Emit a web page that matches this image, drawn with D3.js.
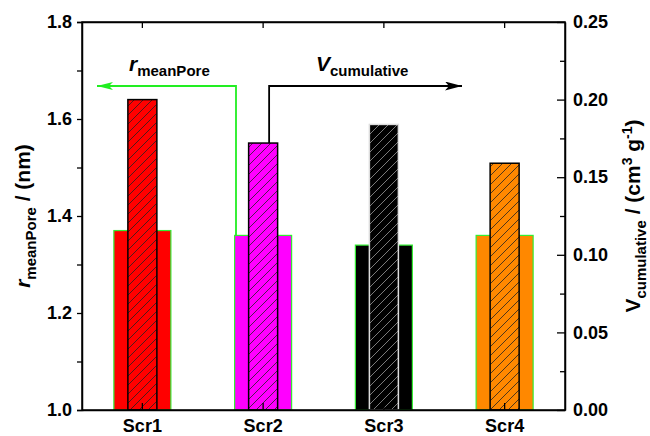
<!DOCTYPE html>
<html>
<head>
<meta charset="utf-8">
<script src="https://d3js.org/d3.v7.min.js"></script>
<style>
  body { margin: 0; background: #fff; }
  text { font-family: "Liberation Sans", Arial, sans-serif; font-weight: bold; }
</style>
</head>
<body>
<svg id="chart" width="650" height="436"></svg>
<script>
    // data
    var categories = ["Scr1", "Scr2", "Scr3", "Scr4"];
    var rMeanPore = [1.37, 1.36, 1.34, 1.36];
    var vCumulative = [0.200, 0.172, 0.184, 0.159];
    var fills = ["#ff0000", "#ff00ff", "#000000", "#ff8800"];
    var leftTicks = [1.0, 1.2, 1.4, 1.6, 1.8];
    var rightTicks = [0.00, 0.05, 0.10, 0.15, 0.20, 0.25];

    var svg = d3.select("#chart");
    var plotL = 82, plotR = 565, plotT = 22, plotB = 410;

    var x = d3.scaleBand().domain(categories).range([plotL, plotR]).padding(0);
    var yL = d3.scaleLinear().domain([1.0, 1.8]).range([plotB, plotT]);
    var yR = d3.scaleLinear().domain([0, 0.25]).range([plotB, plotT]);

    var wideW = 57, narrowW = 29;
    var defs = svg.append("defs");
    fills.forEach(function (c, i) {
        var p = defs.append("pattern")
            .attr("id", "hatch" + i)
            .attr("patternUnits", "userSpaceOnUse")
            .attr("width", 9).attr("height", 9);
        p.append("rect").attr("width", 9).attr("height", 9).attr("fill", c);
        var lc = c == "#000000" ? "#999" : "#222";
        p.append("path")
            .attr("d", "M0,9 L9,0 M-2,2 L2,-2 M7,11 L11,7")
            .attr("stroke", lc).attr("stroke-width", 0.8);
    });

    // wide bars (rmeanPore, left axis)
    svg.selectAll(".wide").data(rMeanPore).enter().append("rect")
        .attr("class", "wide")
        .attr("x", function (d, i) { return x(categories[i]) + x.bandwidth() / 2 - wideW / 2; })
        .attr("y", function (d) { return yL(d); })
        .attr("width", wideW)
        .attr("height", function (d) { return plotB - yL(d); })
        .attr("fill", function (d, i) { return fills[i]; })
        .attr("stroke", "#33ee33").attr("stroke-width", 1.2);

    // narrow hatched bars (Vcumulative, right axis)
    svg.selectAll(".narrow").data(vCumulative).enter().append("rect")
        .attr("class", "narrow")
        .attr("x", function (d, i) { return x(categories[i]) + x.bandwidth() / 2 - narrowW / 2; })
        .attr("y", function (d) { return yR(d); })
        .attr("width", narrowW)
        .attr("height", function (d) { return plotB - yR(d); })
        .attr("fill", function (d, i) { return "url(#hatch" + i + ")"; })
        .attr("stroke", function (d, i) { return fills[i] == "#000000" ? "#ddd" : "#000"; })
        .attr("stroke-width", 1.5);

    // frame
    svg.append("rect").attr("x", plotL).attr("y", plotT)
        .attr("width", plotR - plotL).attr("height", plotB - plotT)
        .attr("fill", "none").attr("stroke", "#000").attr("stroke-width", 1.5);

    // left axis
    svg.append("g").attr("transform", "translate(" + plotL + ",0)")
        .call(d3.axisLeft(yL).tickValues(leftTicks).tickFormat(d3.format(".1f")).tickSize(5).tickPadding(5));
    svg.append("g").attr("transform", "translate(" + plotL + ",0)")
        .call(d3.axisLeft(yL).tickValues([1.1, 1.3, 1.5, 1.7]).tickFormat("").tickSize(5))
        .select(".domain").remove();

    // right axis (ticks inside)
    svg.append("g").attr("transform", "translate(" + plotR + ",0)")
        .call(d3.axisRight(yR).tickValues(rightTicks).tickFormat(d3.format(".2f")).tickSizeInner(-8).tickSizeOuter(0).tickPadding(8));
    svg.append("g").attr("transform", "translate(" + plotR + ",0)")
        .call(d3.axisRight(yR).tickValues([0.025, 0.075, 0.125, 0.175, 0.225]).tickFormat("").tickSizeInner(-5).tickSizeOuter(0))
        .select(".domain").remove();

    // bottom & top ticks (inside)
    svg.append("g").attr("transform", "translate(0," + plotB + ")")
        .call(d3.axisBottom(x).tickSizeInner(-7).tickSizeOuter(0).tickPadding(9));
    svg.append("g").attr("transform", "translate(0," + plotT + ")")
        .call(d3.axisTop(x).tickSizeInner(-6).tickSizeOuter(0).tickFormat(""));

    svg.selectAll(".domain").attr("stroke-width", 1.5);
    svg.selectAll(".tick line").attr("stroke-width", 1.3);
    svg.selectAll(".tick text").attr("font-size", 18).attr("font-family", "Liberation Sans, Arial, sans-serif")
        .attr("font-weight", "bold").attr("fill", "#000");

    // axis titles
    var midY = (plotT + plotB) / 2;
    var tl = svg.append("text")
        .attr("transform", "translate(30," + midY + ") rotate(-90)")
        .attr("text-anchor", "middle").attr("font-size", 21);
    tl.append("tspan").attr("font-style", "italic").text("r");
    tl.append("tspan").attr("font-size", 15).attr("dy", 6).text("meanPore");
    tl.append("tspan").attr("dy", -6).text(" / (nm)");

    var tr = svg.append("text")
        .attr("transform", "translate(640," + midY + ") rotate(-90)")
        .attr("text-anchor", "middle").attr("font-size", 21);
    tr.append("tspan").text("V");
    tr.append("tspan").attr("font-size", 15).attr("dy", 6).text("cumulative");
    tr.append("tspan").attr("dy", -6).text(" / (cm");
    tr.append("tspan").attr("font-size", 14).attr("dy", -8).text("3");
    tr.append("tspan").attr("dy", 8).text(" g");
    tr.append("tspan").attr("font-size", 14).attr("dy", -8).text("-1");
    tr.append("tspan").attr("dy", 8).text(")");

    // annotation arrows
    defs.append("marker").attr("id", "arrG").attr("viewBox", "0 0 16 8")
        .attr("refX", 16).attr("refY", 4).attr("markerWidth", 16).attr("markerHeight", 8)
        .attr("markerUnits", "userSpaceOnUse").attr("orient", "auto")
        .append("path").attr("d", "M0,0 L16,4 L0,8 L4,4 Z").attr("fill", "#22ee22");
    defs.append("marker").attr("id", "arrK").attr("viewBox", "0 0 17 9")
        .attr("refX", 17).attr("refY", 4.5).attr("markerWidth", 17).attr("markerHeight", 9)
        .attr("markerUnits", "userSpaceOnUse").attr("orient", "auto")
        .append("path").attr("d", "M0,0 L17,4.5 L0,9 L4,4.5 Z").attr("fill", "#000");

    var yA = 86;
    var gx = 236, kx = x("Scr2") + x.bandwidth() / 2 + 6;
    svg.append("path")
        .attr("d", "M" + gx + "," + yL(rMeanPore[1]) + " L" + gx + "," + yA + " L97," + yA)
        .attr("fill", "none").attr("stroke", "#22ee22").attr("stroke-width", 1.8)
        .attr("marker-end", "url(#arrG)");
    svg.append("path")
        .attr("d", "M" + kx + "," + yR(vCumulative[1]) + " L" + kx + "," + yA + " L462," + yA)
        .attr("fill", "none").attr("stroke", "#000").attr("stroke-width", 1.8)
        .attr("marker-end", "url(#arrK)");

    var la = svg.append("text").attr("x", 129).attr("y", 71).attr("font-size", 21);
    la.append("tspan").attr("font-style", "italic").text("r");
    la.append("tspan").attr("font-size", 15).attr("dy", 5).text("meanPore");

    var lb = svg.append("text").attr("x", 316).attr("y", 71).attr("font-size", 21);
    lb.append("tspan").attr("font-style", "italic").text("V");
    lb.append("tspan").attr("font-size", 15).attr("dy", 5).text("cumulative");
</script>
</body>
</html>
